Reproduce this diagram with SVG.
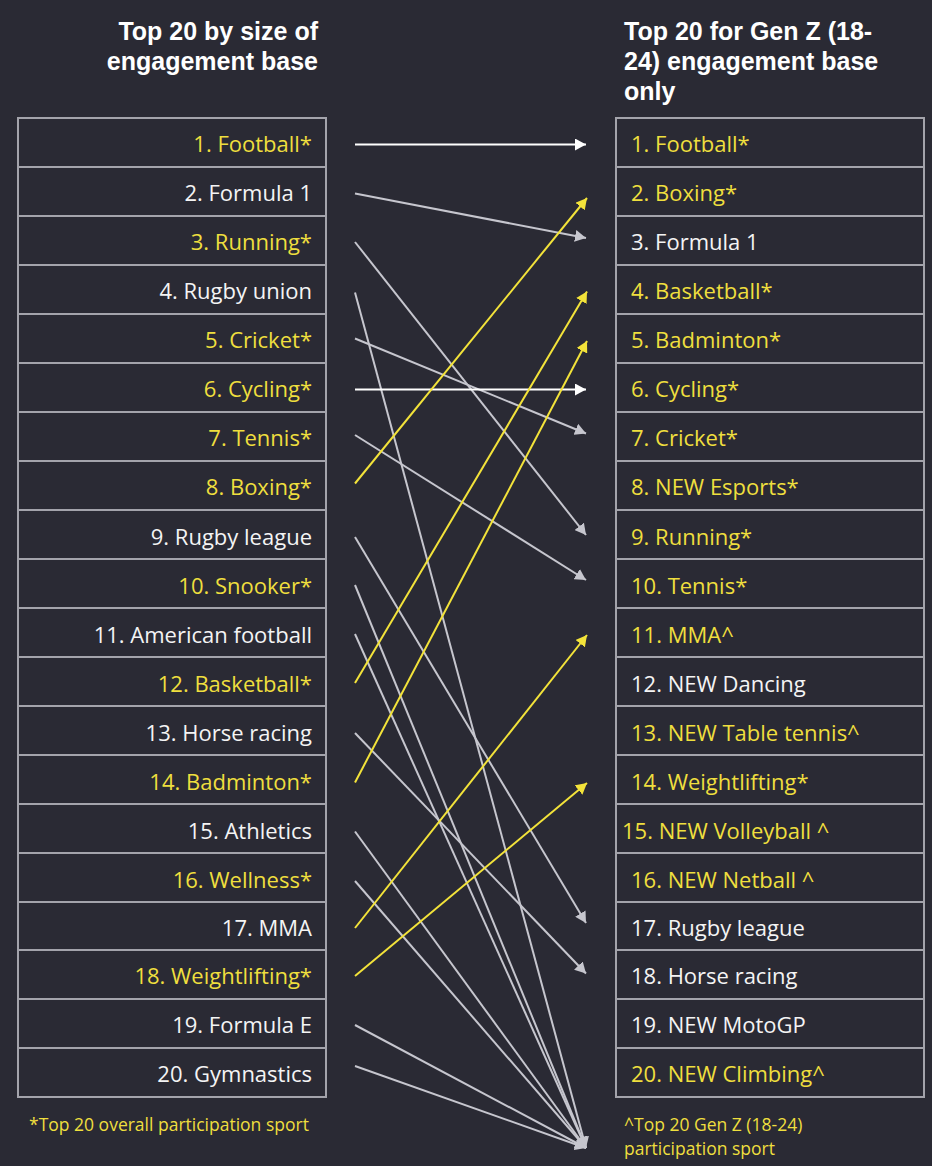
<svg xmlns="http://www.w3.org/2000/svg" width="932" height="1166" viewBox="0 0 932 1166">
<defs>
<style>
.bg{fill:#2a2a34}
.cell{fill:none;stroke:#a3a3ab;stroke-width:2}
.t{font-family:"Open Sans","Liberation Sans",sans-serif;font-size:22px}
.w{fill:#f4f4f4}
.y{fill:#efdf3e}
.l{text-anchor:end}
.h{font-family:"Liberation Sans","Open Sans",sans-serif;font-size:25px;font-weight:bold;fill:#ffffff}
.fn{font-family:"Open Sans","Liberation Sans",sans-serif;font-size:17.5px;fill:#efdf3e}
.cw{stroke:#ffffff;stroke-width:2;fill:none;marker-end:url(#aw)}
.cg{stroke:#c6c6ce;stroke-width:2;fill:none;marker-end:url(#ag)}
.cy{stroke:#f3e33a;stroke-width:2;fill:none;marker-end:url(#ay)}
</style>
<marker id="aw" markerUnits="userSpaceOnUse" markerWidth="12" markerHeight="12" refX="11" refY="6" orient="auto"><path d="M0,0 L11,6 L0,12 Z" fill="#ffffff"/></marker>
<marker id="ag" markerUnits="userSpaceOnUse" markerWidth="12" markerHeight="12" refX="11" refY="6" orient="auto"><path d="M0,0 L11,6 L0,12 Z" fill="#c6c6ce"/></marker>
<marker id="ay" markerUnits="userSpaceOnUse" markerWidth="12" markerHeight="12" refX="11" refY="6" orient="auto"><path d="M0,0 L11,6 L0,12 Z" fill="#f3e33a"/></marker>
</defs>
<rect class="bg" x="0" y="0" width="932" height="1166"/>

<g id="heading-left">
<text class="h" x="318" y="40" text-anchor="end">Top 20 by size of</text>
<text class="h" x="318" y="70" text-anchor="end">engagement base</text>
</g>
<g id="heading-right">
<text class="h" x="624" y="40">Top 20 for Gen Z (18-</text>
<text class="h" x="624" y="70">24) engagement base</text>
<text class="h" x="624" y="100">only</text>
</g>

<g id="left-list">
<g id="l1"><rect class="cell" x="18" y="118" width="308" height="49"/><text class="t y l" x="312" y="152">1. Football*</text></g>
<g id="l2"><rect class="cell" x="18" y="167" width="308" height="49"/><text class="t w l" x="312" y="201">2. Formula 1</text></g>
<g id="l3"><rect class="cell" x="18" y="216" width="308" height="49"/><text class="t y l" x="312" y="250">3. Running*</text></g>
<g id="l4"><rect class="cell" x="18" y="265" width="308" height="49"/><text class="t w l" x="312" y="299">4. Rugby union</text></g>
<g id="l5"><rect class="cell" x="18" y="314" width="308" height="49"/><text class="t y l" x="312" y="348">5. Cricket*</text></g>
<g id="l6"><rect class="cell" x="18" y="363" width="308" height="49"/><text class="t y l" x="312" y="397">6. Cycling*</text></g>
<g id="l7"><rect class="cell" x="18" y="412" width="308" height="49"/><text class="t y l" x="312" y="446">7. Tennis*</text></g>
<g id="l8"><rect class="cell" x="18" y="461" width="308" height="49"/><text class="t y l" x="312" y="495">8. Boxing*</text></g>
<g id="l9"><rect class="cell" x="18" y="510" width="308" height="49"/><text class="t w l" x="312" y="545">9. Rugby league</text></g>
<g id="l10"><rect class="cell" x="18" y="559" width="308" height="49"/><text class="t y l" x="312" y="594">10. Snooker*</text></g>
<g id="l11"><rect class="cell" x="18" y="608" width="308" height="49"/><text class="t w l" x="312" y="643">11. American football</text></g>
<g id="l12"><rect class="cell" x="18" y="657" width="308" height="49"/><text class="t y l" x="312" y="692">12. Basketball*</text></g>
<g id="l13"><rect class="cell" x="18" y="706" width="308" height="49"/><text class="t w l" x="312" y="741">13. Horse racing</text></g>
<g id="l14"><rect class="cell" x="18" y="755" width="308" height="49"/><text class="t y l" x="312" y="790">14. Badminton*</text></g>
<g id="l15"><rect class="cell" x="18" y="804" width="308" height="49"/><text class="t w l" x="312" y="839">15. Athletics </text></g>
<g id="l16"><rect class="cell" x="18" y="853" width="308" height="49"/><text class="t y l" x="312" y="888">16. Wellness*</text></g>
<g id="l17"><rect class="cell" x="18" y="902" width="308" height="48"/><text class="t w l" x="312" y="936">17. MMA</text></g>
<g id="l18"><rect class="cell" x="18" y="950" width="308" height="49"/><text class="t y l" x="312" y="984">18. Weightlifting*</text></g>
<g id="l19"><rect class="cell" x="18" y="999" width="308" height="49"/><text class="t w l" x="312" y="1033">19. Formula E</text></g>
<g id="l20"><rect class="cell" x="18" y="1048" width="308" height="49"/><text class="t w l" x="312" y="1082">20. Gymnastics</text></g>
</g>

<g id="right-list">
<g id="r1"><rect class="cell" x="616" y="118" width="308" height="49"/><text class="t y" x="631" y="152">1. Football*</text></g>
<g id="r2"><rect class="cell" x="616" y="167" width="308" height="49"/><text class="t y" x="631" y="201">2. Boxing*</text></g>
<g id="r3"><rect class="cell" x="616" y="216" width="308" height="49"/><text class="t w" x="631" y="250">3. Formula 1</text></g>
<g id="r4"><rect class="cell" x="616" y="265" width="308" height="49"/><text class="t y" x="631" y="299">4. Basketball*</text></g>
<g id="r5"><rect class="cell" x="616" y="314" width="308" height="49"/><text class="t y" x="631" y="348">5. Badminton*</text></g>
<g id="r6"><rect class="cell" x="616" y="363" width="308" height="49"/><text class="t y" x="631" y="397">6. Cycling*</text></g>
<g id="r7"><rect class="cell" x="616" y="412" width="308" height="49"/><text class="t y" x="631" y="446">7. Cricket*</text></g>
<g id="r8"><rect class="cell" x="616" y="461" width="308" height="49"/><text class="t y" x="631" y="495">8. NEW Esports*</text></g>
<g id="r9"><rect class="cell" x="616" y="510" width="308" height="49"/><text class="t y" x="631" y="545">9. Running*</text></g>
<g id="r10"><rect class="cell" x="616" y="559" width="308" height="49"/><text class="t y" x="631" y="594">10. Tennis*</text></g>
<g id="r11"><rect class="cell" x="616" y="608" width="308" height="49"/><text class="t y" x="631" y="643">11. MMA^</text></g>
<g id="r12"><rect class="cell" x="616" y="657" width="308" height="49"/><text class="t w" x="631" y="692">12. NEW Dancing</text></g>
<g id="r13"><rect class="cell" x="616" y="706" width="308" height="49"/><text class="t y" x="631" y="741">13. NEW Table tennis^</text></g>
<g id="r14"><rect class="cell" x="616" y="755" width="308" height="49"/><text class="t y" x="631" y="790">14. Weightlifting*</text></g>
<g id="r15"><rect class="cell" x="616" y="804" width="308" height="49"/><text class="t y" x="622" y="839">15. NEW Volleyball ^</text></g>
<g id="r16"><rect class="cell" x="616" y="853" width="308" height="49"/><text class="t y" x="631" y="888">16. NEW Netball ^</text></g>
<g id="r17"><rect class="cell" x="616" y="902" width="308" height="48"/><text class="t w" x="631" y="936">17. Rugby league</text></g>
<g id="r18"><rect class="cell" x="616" y="950" width="308" height="49"/><text class="t w" x="631" y="984">18. Horse racing</text></g>
<g id="r19"><rect class="cell" x="616" y="999" width="308" height="49"/><text class="t w" x="631" y="1033">19. NEW MotoGP</text></g>
<g id="r20"><rect class="cell" x="616" y="1048" width="308" height="49"/><text class="t y" x="631" y="1082">20. NEW Climbing^</text></g>
</g>

<g id="connectors">
<line class="cw" x1="355" y1="144.5" x2="586" y2="144.5"/>
<line class="cg" x1="355" y1="193.5" x2="586" y2="238"/>
<line class="cg" x1="355" y1="242" x2="586" y2="535"/>
<line class="cg" x1="355" y1="292.5" x2="586" y2="1148"/>
<line class="cg" x1="355" y1="338.5" x2="586" y2="433.5"/>
<line class="cw" x1="355" y1="389.5" x2="586" y2="389.5"/>
<line class="cg" x1="355" y1="435" x2="586" y2="580"/>
<line class="cy" x1="355" y1="483.5" x2="587" y2="198"/>
<line class="cg" x1="355" y1="537" x2="586" y2="923"/>
<line class="cg" x1="355" y1="585" x2="586" y2="1148"/>
<line class="cg" x1="355" y1="634" x2="586" y2="1148"/>
<line class="cy" x1="355" y1="683" x2="587" y2="291.5"/>
<line class="cg" x1="355" y1="733" x2="586" y2="973.5"/>
<line class="cy" x1="355" y1="782.5" x2="587" y2="341"/>
<line class="cg" x1="355" y1="831.5" x2="586" y2="1148"/>
<line class="cg" x1="355" y1="881" x2="586" y2="1148"/>
<line class="cy" x1="355" y1="928" x2="587" y2="635"/>
<line class="cy" x1="355" y1="976" x2="587" y2="783"/>
<line class="cg" x1="355" y1="1025" x2="586" y2="1148"/>
<line class="cg" x1="355" y1="1066" x2="586" y2="1148"/>
</g>

<g id="footnotes">
<text class="fn" x="29" y="1131">*Top 20 overall participation sport</text>
<text class="fn" x="624" y="1131">^Top 20 Gen Z (18-24)</text>
<text class="fn" x="624" y="1155">participation sport</text>
</g>
</svg>
